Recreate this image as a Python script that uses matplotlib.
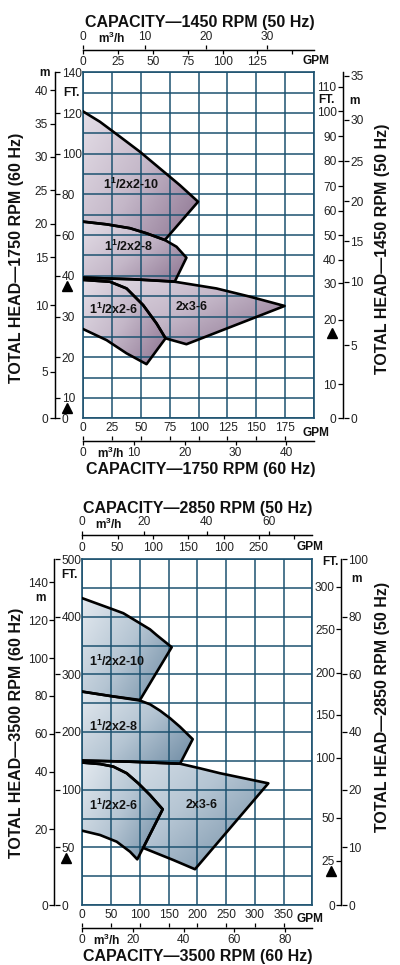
import numpy as np
import matplotlib
matplotlib.use("Agg")
import matplotlib.pyplot as plt
from matplotlib.colors import LinearSegmentedColormap
from matplotlib.patches import Polygon
from matplotlib.transforms import blended_transform_factory

plt.rcParams['font.family'] = ['Liberation Sans', 'DejaVu Sans']
plt.rcParams['mathtext.fontset'] = 'custom'
plt.rcParams['mathtext.rm'] = 'Liberation Sans:bold'
plt.rcParams['mathtext.bf'] = 'Liberation Sans:bold'
plt.rcParams['mathtext.it'] = 'Liberation Sans:bold'
plt.rcParams['mathtext.default'] = 'bf'

GPM_PER_M3H = 4.403
FT_PER_M = 3.2808

# ---------------- upper chart: 1750 rpm (60 Hz) / 1450 rpm (50 Hz)
up_ratio = 1450 / 1750
up_gpm_max = 200
up_gpm_grid = [0, 25, 50, 75, 100, 125, 150, 175, 200]
up_rows = 17
up_ft_knots = [0, 10, 40, 140]          # left feet scale is broken at 10 and 40 ft
up_row_knots = [0, 1, 7, 17]
up_r_ft_knots = [0, 10, 20, 30, 40, 50, 60, 70, 80, 90, 100, 110]
up_r_ft_rows = [0, 1.68, 4.83, 6.63, 7.8, 9.0, 10.2, 11.4, 12.65, 13.87, 15.08, 16.28]
up_r_m_knots = [0, 5, 10, 15, 20, 25, 30, 35]
up_r_m_rows = [0, 3.6, 6.71, 8.69, 10.67, 12.64, 14.68, 16.83]

up_ft_ticks = [0, 10, 20, 30, 40, 60, 80, 100, 120, 140]
up_m_ticks = [0, 5, 10, 15, 20, 25, 30, 35, 40]
up_gpm_ticks = [0, 25, 50, 75, 100, 125, 150, 175]
up_m3h_ticks = [0, 10, 20, 30, 40]
up_top_gpm_ticks = [0, 25, 50, 75, 100, 125, 150]
up_top_gpm_labels = ['0', '25', '50', '75', '100', '125', '']
up_top_m3h_ticks = [0, 10, 20, 30]

up_210_gpm = [0, 14.4, 31.7, 49.0, 66.3, 83.6, 99.5, 70.7, 54.8, 40.4, 20.2, 0]
up_210_ft = [120.7, 115.7, 108.4, 101, 92.8, 84.6, 76.4, 57.6, 60.9, 63.4, 65.3, 66.6]
up_28_gpm = [0, 20.2, 40.4, 54.8, 70.7, 80.8, 89.4, 79.3, 43.3, 0]
up_28_ft = [66.6, 65.3, 63.4, 60.9, 57.6, 54.3, 48.9, 38.6, 39.15, 39.55]
up_236_gpm = [0, 43.3, 79.3, 115.4, 144.2, 174.5, 89.4, 71.3, 63.5, 51.9, 37.5, 23.1, 0]
up_236_ft = [39.55, 39.15, 38.55, 36.9, 34.9, 32.6, 23.2, 24.65, 28.3, 32.8, 36.9, 38.55, 39.0]
up_26_gpm = [0, 23.1, 37.5, 51.9, 63.5, 71.3, 54.8, 37.5, 20.2, 0]
up_26_ft = [39.0, 38.55, 36.9, 32.8, 28.3, 24.65, 18.3, 20.96, 24.2, 26.9]
up_label_gpm = [41.8, 39, 26, 93.8]
up_label_ft = [85, 54.3, 31.8, 32.4]
up_tri_left_ft = [37.4, 4.9]
up_tri_right_ft = [18]

# ---------------- lower chart: 3500 rpm (60 Hz) / 2850 rpm (50 Hz)
lo_ratio = 2850 / 3500
lo_gpm_max = 400
lo_gpm_grid = [0, 50, 100, 150, 200, 250, 300, 350, 400]
lo_rows = 12
lo_ft_knots = [0, 100, 500]             # left feet scale is broken at 100 ft
lo_row_knots = [0, 4, 12]
lo_r_ft_knots = [0, 25, 50, 100, 150, 200, 250, 300]
lo_r_ft_rows = [0, 1.54, 3.03, 5.11, 6.59, 8.06, 9.56, 11.03]
lo_r_m_knots = [0, 10, 20, 40, 60, 80, 100]
lo_r_m_rows = [0, 2, 4, 6, 8, 10, 12]

lo_ft_ticks = [0, 50, 100, 200, 300, 400, 500]
lo_m_ticks = [0, 20, 40, 60, 80, 100, 120, 140]
lo_gpm_ticks = [0, 50, 100, 150, 200, 250, 300, 350]
lo_m3h_ticks = [0, 20, 40, 60, 80]
lo_top_gpm_ticks = [0, 50, 100, 150, 200, 250, 300]
lo_top_gpm_labels = ['0', '50', '100', '150', '100', '250', '']
lo_top_m3h_ticks = [0, 20, 40, 60]

lo_210_gpm = [0, 48.2, 71.3, 100.3, 117.7, 129.4, 155.5, 100.3, 48.2, 0]
lo_210_ft = [432, 414.5, 406, 388.5, 378, 368, 347, 255.5, 262.5, 270]
lo_28_gpm = [0, 48.2, 100.3, 117.8, 135.2, 152.5, 169.9, 192, 170, 83, 0]
lo_28_ft = [270, 262.5, 254.5, 248, 237, 224, 209, 187.5, 145, 148.5, 150.5]
lo_236_gpm = [0, 83, 170, 204.7, 239.5, 323.5, 196, 158.3, 129.4, 106,
              139.8, 117.7, 97.4, 77.2, 54, 30.8, 0]
lo_236_ft = [150.5, 148.5, 145, 137, 128.5, 111, 31, 39, 44.8, 49.5,
             83, 95.4, 111, 128.5, 140, 144.5, 147]
lo_26_gpm = [0, 30.8, 54, 77.2, 97.4, 117.7, 139.8, 95.6, 83, 59.8, 30.8, 0]
lo_26_ft = [147, 144.5, 140, 128.5, 111, 95.4, 83, 39.6, 46.2, 54.9, 60.7, 64.4]
lo_label_gpm = [59.8, 54, 54, 207.6]
lo_label_ft = [322, 210, 86.7, 86.7]
lo_tri_left_ft = [40.5]
lo_tri_right_ft = [19.3]

region_names = [r'1$^{1}$/2x2-10', r'1$^{1}$/2x2-8', r'1$^{1}$/2x2-6', '2x3-6']

GRID = '#1d5270'
TICK_COL = '#222222'
up_cmap = LinearSegmentedColormap.from_list('up', ['#e4dee7', '#c4b7c8', '#8c7390'])
lo_cmap = LinearSegmentedColormap.from_list('lo', ['#e3e9ef', '#b5c5d3', '#6e8ba3'])

W, H = 400, 965
fig = plt.figure(figsize=(W / 100, H / 100), dpi=100)


def box(x0, y0, x1, y1):
    return [x0 / W, 1 - y1 / H, (x1 - x0) / W, (y1 - y0) / H]


def ftxt(x, y, s, **kw):
    kw.setdefault('ha', 'center')
    kw.setdefault('va', 'center')
    return fig.text(x / W, 1 - y / H, s, **kw)


def interp_ext(v, xp, fp):
    v = np.asarray(v, dtype=float)
    xp = np.asarray(xp, dtype=float)
    fp = np.asarray(fp, dtype=float)
    out = np.interp(v, xp, fp)
    lo_s = (fp[1] - fp[0]) / (xp[1] - xp[0])
    hi_s = (fp[-1] - fp[-2]) / (xp[-1] - xp[-2])
    out = np.where(v < xp[0], fp[0] + (v - xp[0]) * lo_s, out)
    out = np.where(v > xp[-1], fp[-1] + (v - xp[-1]) * hi_s, out)
    return out


def knot_scale(ax, vals, rows, n_rows):
    fwd = lambda v: interp_ext(v, vals, rows)
    inv = lambda r: interp_ext(r, rows, vals)
    ax.set_yscale('function', functions=(fwd, inv))
    ax.set_ylim(float(inv(0)), float(inv(n_rows)))
    return inv


def vert_axis(x, y0, y1, vals, rows, n_rows, ticks, side):
    a = fig.add_axes(box(x - 0.3, y0, x + 0.3, y1))
    a.patch.set_visible(False)
    knot_scale(a, vals, rows, n_rows)
    a.set_xticks([])
    for s in a.spines.values():
        s.set_visible(False)
    a.spines['left'].set_visible(True)
    a.spines['left'].set_linewidth(0.9)
    a.set_yticks(ticks)
    if side == 'right':
        a.yaxis.tick_right()
    else:
        a.yaxis.tick_left()
    a.tick_params(axis='y', direction='out', length=3.5, width=0.9, pad=1.2,
                  labelsize=8.6, labelcolor=TICK_COL)
    return a


def horiz_axis(x0, x1, y, xmax, ticks, side, labels=None):
    a = fig.add_axes(box(x0, y - 0.3, x1, y + 0.3))
    a.patch.set_visible(False)
    a.set_xlim(0, xmax)
    a.set_yticks([])
    for s in a.spines.values():
        s.set_visible(False)
    a.spines['bottom'].set_visible(True)
    a.spines['bottom'].set_linewidth(0.9)
    a.set_xticks(ticks)
    if labels is not None:
        a.set_xticklabels(labels)
    if side == 'top':
        a.xaxis.tick_top()
    else:
        a.xaxis.tick_bottom()
    a.tick_params(axis='x', direction='out', length=3, width=0.9, pad=1.5,
                  labelsize=8.6, labelcolor=TICK_COL)
    return a


def add_region(ax, gpm, ft, cmap):
    verts = np.column_stack([gpm, ft])
    poly = Polygon(verts, closed=True, facecolor='none', edgecolor='none', zorder=1)
    ax.add_patch(poly)
    pts = ax.transAxes.inverted().transform(ax.transData.transform(verts))
    x0, y0 = pts.min(axis=0)
    x1, y1 = pts.max(axis=0)
    gx, gy = np.meshgrid(np.linspace(0, 1, 120), np.linspace(0, 1, 120))
    t = 0.6 * gx + 0.4 * (1 - gy)
    im = ax.imshow(t, extent=(x0, x1, y0, y1), origin='lower', transform=ax.transAxes,
                   cmap=cmap, aspect='auto', zorder=1, interpolation='bilinear')
    im.set_clip_path(poly)
    ax.plot(gpm, ft, color='black', lw=1.9, zorder=3, solid_joinstyle='round')


def chart(plot_px, left_x, right_x, top_y, bot_y, ratio, gpm_max, gpm_grid, n_rows,
          ft_knots, row_knots, r_ft_knots, r_ft_rows, r_m_knots, r_m_rows,
          ft_ticks, m_ticks, gpm_ticks, m3h_ticks, top_gpm_ticks, top_gpm_labels,
          top_m3h_ticks, regions, lab_gpm, lab_ft, cmap):
    x0, y0, x1, y1 = plot_px
    ax = fig.add_axes(box(x0, y0, x1, y1))
    inv = knot_scale(ax, ft_knots, row_knots, n_rows)
    ax.set_xlim(0, gpm_max)
    ax.set_autoscale_on(False)
    ax.set_xticks(gpm_grid)
    ax.set_yticks(inv(np.arange(n_rows + 1)))
    ax.tick_params(length=0, labelleft=False, labelbottom=False)
    ax.grid(True, color=GRID, lw=1.1)
    ax.set_axisbelow(False)
    for s in ax.spines.values():
        s.set_color(GRID)
        s.set_linewidth(1.2)

    for (g, f) in regions:
        add_region(ax, g, f, cmap)
    for gx, fy, name in zip(lab_gpm, lab_ft, region_names):
        ax.text(gx, fy, name, ha='center', va='center', fontsize=9,
                fontweight='bold', color='#111111', zorder=5)

    # left: metres (outside) and feet (inside)
    m_knots = [k / FT_PER_M for k in ft_knots]
    vert_axis(left_x, y0, y1, ft_knots, row_knots, n_rows, ft_ticks, 'right')
    vert_axis(left_x, y0, y1, m_knots, row_knots, n_rows, m_ticks, 'left')
    # right: feet (inside) and metres (outside) at 50 Hz
    rft = vert_axis(right_x, y0, y1, r_ft_knots, r_ft_rows, n_rows, r_ft_knots, 'left')
    vert_axis(right_x, y0, y1, r_m_knots, r_m_rows, n_rows, r_m_knots, 'right')

    # capacity axes
    horiz_axis(x0, x1, top_y, gpm_max * ratio, top_gpm_ticks, 'bottom', top_gpm_labels)
    horiz_axis(x0, x1, top_y, gpm_max * ratio / GPM_PER_M3H, top_m3h_ticks, 'top')
    horiz_axis(x0, x1, bot_y, gpm_max, gpm_ticks, 'top')
    horiz_axis(x0, x1, bot_y, gpm_max / GPM_PER_M3H, m3h_ticks, 'bottom')
    return ax, rft


ax_up, rft_up = chart((83.3, 72.3, 314, 418.3), 55, 343.3, 49.3, 440.7, up_ratio,
                      up_gpm_max, up_gpm_grid, up_rows, up_ft_knots, up_row_knots,
                      up_r_ft_knots, up_r_ft_rows, up_r_m_knots, up_r_m_rows,
                      up_ft_ticks, up_m_ticks, up_gpm_ticks, up_m3h_ticks,
                      up_top_gpm_ticks, up_top_gpm_labels, up_top_m3h_ticks,
                      [(up_210_gpm, up_210_ft), (up_28_gpm, up_28_ft),
                       (up_236_gpm, up_236_ft), (up_26_gpm, up_26_ft)],
                      up_label_gpm, up_label_ft, up_cmap)

ax_lo, rft_lo = chart((82.3, 559, 312.3, 905), 54.7, 341.7, 535, 927.3, lo_ratio,
                      lo_gpm_max, lo_gpm_grid, lo_rows, lo_ft_knots, lo_row_knots,
                      lo_r_ft_knots, lo_r_ft_rows, lo_r_m_knots, lo_r_m_rows,
                      lo_ft_ticks, lo_m_ticks, lo_gpm_ticks, lo_m3h_ticks,
                      lo_top_gpm_ticks, lo_top_gpm_labels, lo_top_m3h_ticks,
                      [(lo_236_gpm, lo_236_ft), (lo_26_gpm, lo_26_ft),
                       (lo_210_gpm, lo_210_ft), (lo_28_gpm, lo_28_ft)],
                      lo_label_gpm, lo_label_ft, lo_cmap)

# triangle marks beside the head scales
tri = dict(marker='^', ms=7, color='black', ls='none', clip_on=False, zorder=6)
ax_up.plot([-0.069] * len(up_tri_left_ft), up_tri_left_ft,
           transform=ax_up.get_yaxis_transform(), **tri)
ax_up.plot([1.078] * len(up_tri_right_ft), up_tri_right_ft,
           transform=blended_transform_factory(ax_up.transAxes, rft_up.transData), **tri)
ax_lo.plot([-0.07] * len(lo_tri_left_ft), lo_tri_left_ft,
           transform=ax_lo.get_yaxis_transform(), **tri)
ax_lo.plot([1.081] * len(lo_tri_right_ft), lo_tri_right_ft,
           transform=blended_transform_factory(ax_lo.transAxes, rft_lo.transData), **tri)

# titles
tkw = dict(fontsize=11.5, fontweight='bold', color='#111111')
ftxt(199.5, 22.5, 'CAPACITY—1450 RPM (50 Hz)', **tkw)
ftxt(200.5, 470, 'CAPACITY—1750 RPM (60 Hz)', **tkw)
ftxt(17, 258, 'TOTAL HEAD—1750 RPM (60 Hz)', rotation=90, **tkw)
ftxt(383, 249, 'TOTAL HEAD—1450 RPM (50 Hz)', rotation=90, **tkw)
ftxt(197.5, 509, 'CAPACITY—2850 RPM (50 Hz)', **tkw)
ftxt(198, 956, 'CAPACITY—3500 RPM (60 Hz)', **tkw)
ftxt(17, 733, 'TOTAL HEAD—3500 RPM (60 Hz)', rotation=90, **tkw)
ftxt(383, 707, 'TOTAL HEAD—2850 RPM (50 Hz)', rotation=90, **tkw)

# unit labels
ukw = dict(fontsize=8.6, fontweight='bold', color='#111111')
ftxt(45, 72.5, 'm', **ukw)
ftxt(71.5, 93.5, 'FT.', **ukw)
ftxt(326.5, 100, 'FT.', **ukw)
ftxt(355, 101, 'm', **ukw)
ftxt(112, 38, 'm$^3$/h', **ukw)
ftxt(316, 61, 'GPM', **ukw)
ftxt(316, 432.5, 'GPM', **ukw)
ftxt(110.5, 453.5, 'm$^3$/h', **ukw)

ftxt(69.5, 575.5, 'FT.', **ukw)
ftxt(40, 598, 'm', **ukw)
ftxt(330, 562, 'FT.', **ukw)
ftxt(356.5, 578.5, 'm', **ukw)
ftxt(108.5, 524.5, 'm$^3$/h', **ukw)
ftxt(310, 546.5, 'GPM', **ukw)
ftxt(310, 919.5, 'GPM', **ukw)
ftxt(107, 940, 'm$^3$/h', **ukw)

fig.savefig('out.png', dpi=100)
